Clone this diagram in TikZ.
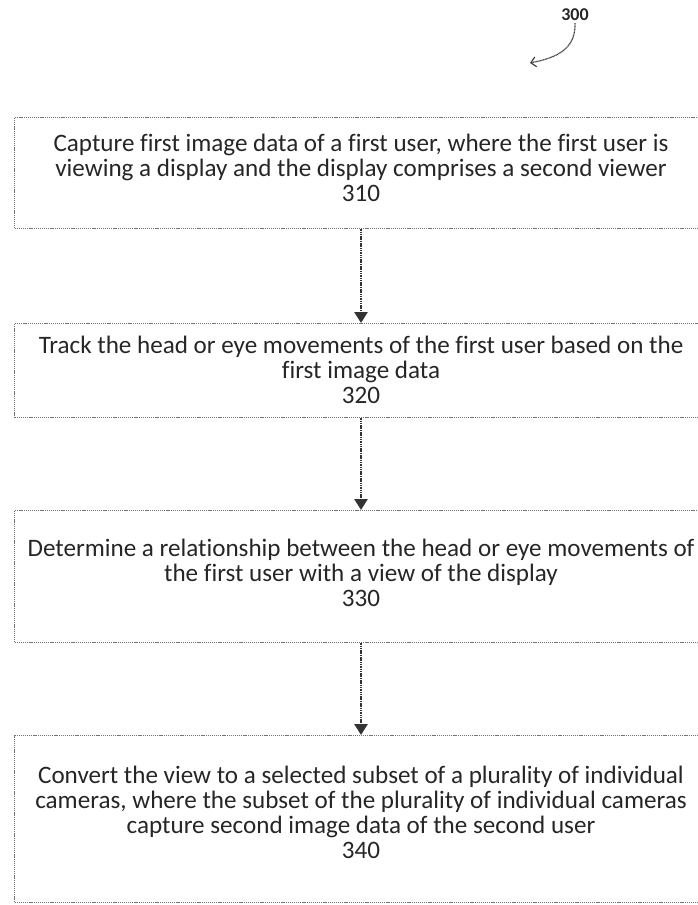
\documentclass[tikz,border=0pt]{standalone}
\usepackage{fontspec}
\setmainfont[Ligatures=NoCommon]{Carlito}
\usetikzlibrary{arrows.meta}
\begin{document}
\begin{tikzpicture}[x=1pt,y=-1pt,
  stepbox/.style={draw=black!55, line width=1.2pt, dash pattern=on 1.2pt off 0.9pt},
  steptext/.style={align=center, font=\fontsize{25.1}{25}\selectfont, text=black!85, inner sep=0pt},
  flow/.style={draw=black!80, line width=2.6pt, dash pattern=on 1.5pt off 0.8pt, -{Triangle[width=13pt,length=11pt]}}
]
\useasboundingbox (0,0) rectangle (698,905);
\clip (0,0) rectangle (698,905);
\node[stepbox, minimum width=694pt, minimum height=111pt, anchor=north west] (b1) at (14,117) {};
\node[stepbox, minimum width=694pt, minimum height=94pt, anchor=north west] (b2) at (14,323) {};
\node[stepbox, minimum width=694pt, minimum height=132pt, anchor=north west] (b3) at (14,510) {};
\node[stepbox, minimum width=694pt, minimum height=167pt, anchor=north west] (b4) at (14,735) {};
\node[steptext] (t1) at (361,168) {Capture first image data of a first user, where the first user is\\viewing a display and the display comprises a second viewer\\310};
\node[steptext] (t2) at (361,370) {Track the head or eye movements of the first user based on the\\first image data\\320};
\node[steptext] (t3) at (361,573) {Determine a relationship between the head or eye movements of\\the first user with a view of the display\\330};
\node[steptext] (t4) at (361,812) {Convert the view to a selected subset of a plurality of individual\\cameras, where the subset of the plurality of individual cameras\\capture second image data of the second user\\340};
\path[flow] (b1.south -| t1) -- (b2.north -| t1);
\path[flow] (b2.south -| t1) -- (b3.north -| t1);
\path[flow] (b3.south -| t1) -- (b4.north -| t1);
\node[font=\bfseries\fontsize{18}{18}\selectfont, text=black!85, inner sep=0pt] (lbl) at (575,15) {300};
\coordinate (tip) at (530,63);
\draw[black!75, line width=1.2pt, dash pattern=on 1pt off 0.5pt, -{Straight Barb[length=5pt,width=10pt]}] ([yshift=-2pt]lbl.south) .. controls (576,50) and (555,58) .. (tip);
\end{tikzpicture}
\end{document}
